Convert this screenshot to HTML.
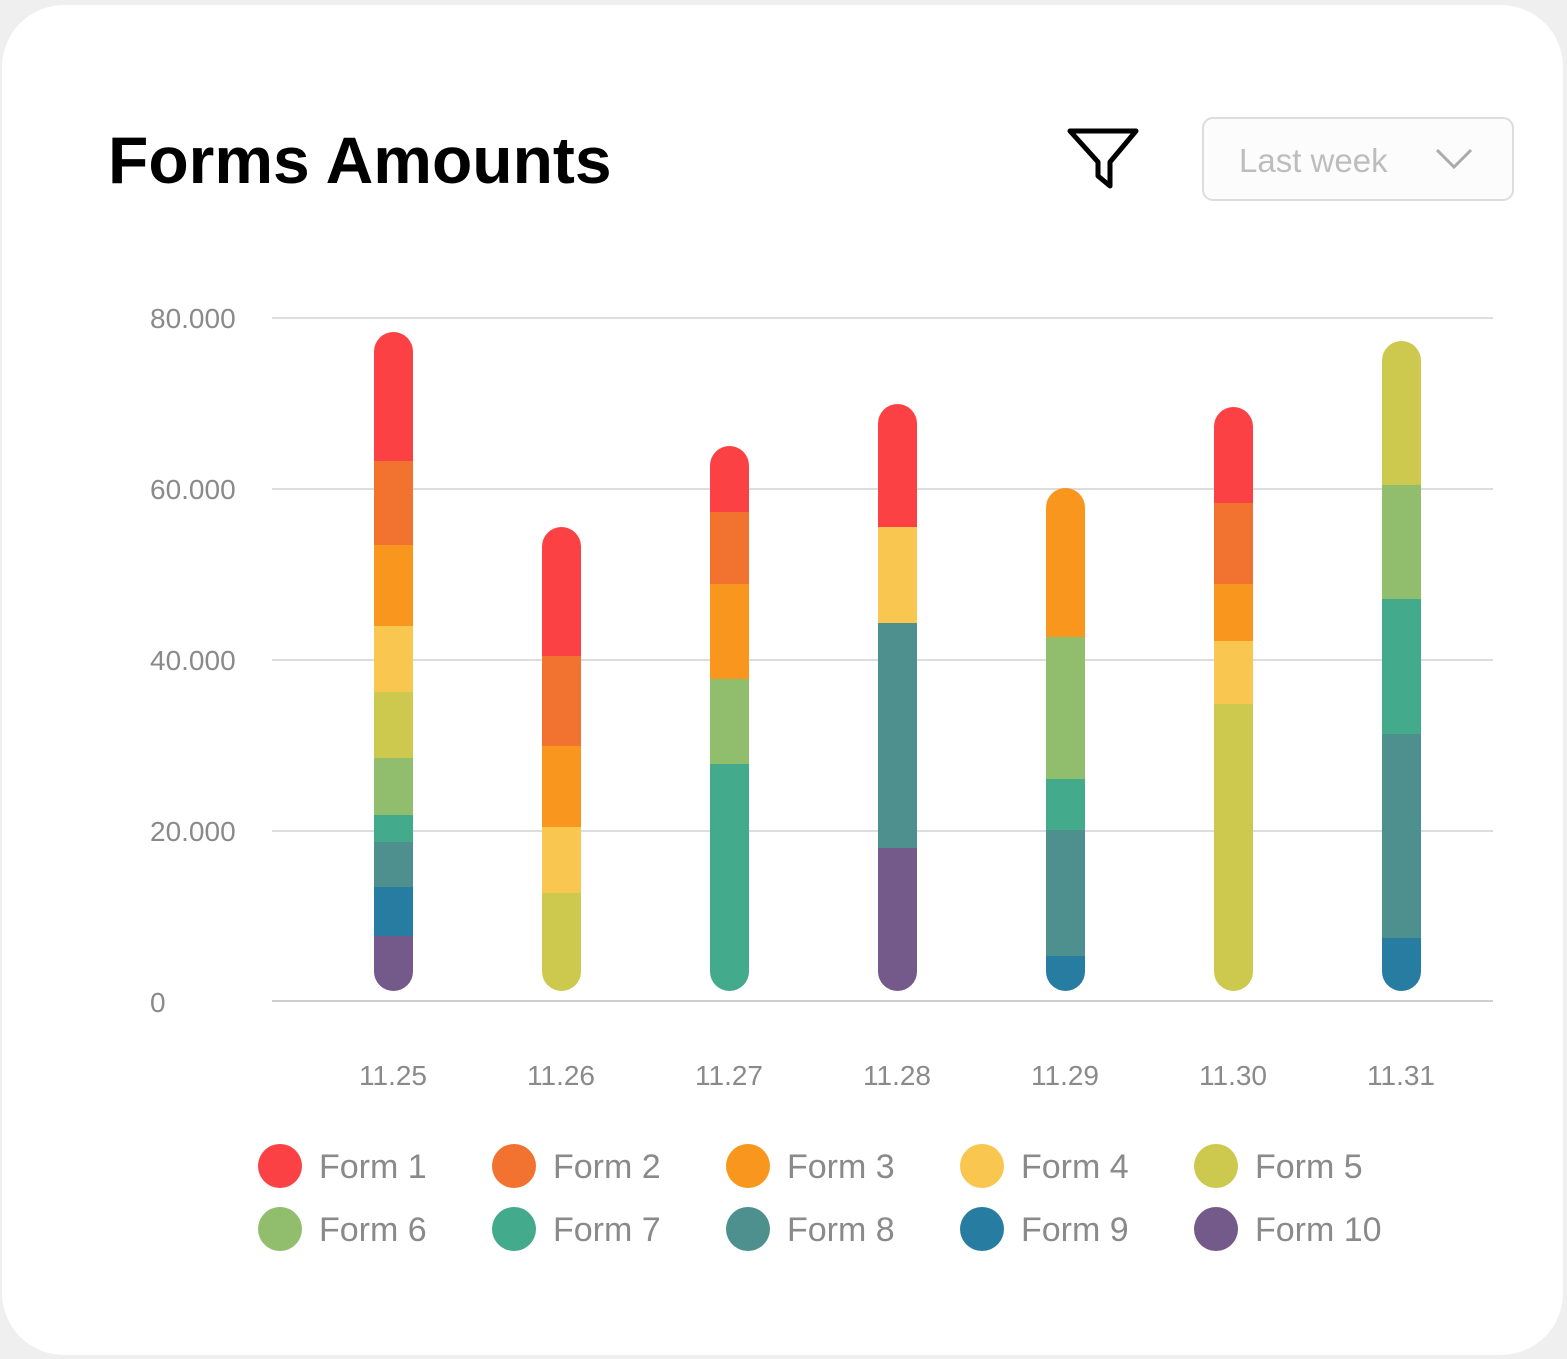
<!DOCTYPE html>
<html><head><meta charset="utf-8"><style>
html,body{margin:0;padding:0;background:#efefef;}
svg{display:block;}
text{font-family:"Liberation Sans",sans-serif;}
</style></head><body>
<svg width="1567" height="1359" viewBox="0 0 1567 1359" xmlns="http://www.w3.org/2000/svg">
<rect x="0" y="0" width="1567" height="1359" fill="#efefef"/>
<rect x="2" y="5" width="1561" height="1350" rx="62" fill="#ffffff"/>
<text x="108" y="183" font-size="66" font-weight="bold" fill="#000">Forms Amounts</text>
<path d="M1070 131 L1136 131 L1110 162 L1110 186 L1098 176 L1098 162 Z" fill="none" stroke="#000" stroke-width="5" stroke-linejoin="round"/>
<rect x="1203" y="118" width="310" height="82" rx="10" fill="#fbfcfb" stroke="#dcdcdc" stroke-width="2"/>
<text x="1239" y="172" font-size="33" fill="#bdbdbd">Last week</text>
<path d="M1437 150 L1454 167 L1471 150" fill="none" stroke="#aaa" stroke-width="3"/>
<g stroke="#dddddd" stroke-width="2">
<line x1="272" y1="318" x2="1493" y2="318"/>
<line x1="272" y1="489" x2="1493" y2="489"/>
<line x1="272" y1="660" x2="1493" y2="660"/>
<line x1="272" y1="831" x2="1493" y2="831"/>
<line x1="272" y1="1001" x2="1493" y2="1001" stroke="#cfcfcf"/>
</g>
<g font-size="28" fill="#8a8a8a">
<text x="150" y="328">80.000</text>
<text x="150" y="499">60.000</text>
<text x="150" y="670">40.000</text>
<text x="150" y="841">20.000</text>
<text x="150" y="1012">0</text>
</g>
<defs>
<clipPath id="c1"><rect x="374" y="332" width="39" height="659" rx="19.5"/></clipPath>
<clipPath id="c2"><rect x="542" y="527" width="39" height="464" rx="19.5"/></clipPath>
<clipPath id="c3"><rect x="710" y="446" width="39" height="545" rx="19.5"/></clipPath>
<clipPath id="c4"><rect x="878" y="404" width="39" height="587" rx="19.5"/></clipPath>
<clipPath id="c5"><rect x="1046" y="488" width="39" height="503" rx="19.5"/></clipPath>
<clipPath id="c6"><rect x="1214" y="407" width="39" height="584" rx="19.5"/></clipPath>
<clipPath id="c7"><rect x="1382" y="341" width="39" height="650" rx="19.5"/></clipPath>
</defs>
<g clip-path="url(#c1)">
<rect x="374" y="332" width="39" height="129" fill="#fc4145"/>
<rect x="374" y="461" width="39" height="84" fill="#f2722f"/>
<rect x="374" y="545" width="39" height="81" fill="#f8961e"/>
<rect x="374" y="626" width="39" height="66" fill="#f9c74f"/>
<rect x="374" y="692" width="39" height="66" fill="#cdc94f"/>
<rect x="374" y="758" width="39" height="57" fill="#90be6d"/>
<rect x="374" y="815" width="39" height="27" fill="#43aa8b"/>
<rect x="374" y="842" width="39" height="45" fill="#4d908e"/>
<rect x="374" y="887" width="39" height="49" fill="#277da1"/>
<rect x="374" y="936" width="39" height="55" fill="#735a8a"/>
</g>
<g clip-path="url(#c2)">
<rect x="542" y="527" width="39" height="129" fill="#fc4145"/>
<rect x="542" y="656" width="39" height="90" fill="#f2722f"/>
<rect x="542" y="746" width="39" height="81" fill="#f8961e"/>
<rect x="542" y="827" width="39" height="66" fill="#f9c74f"/>
<rect x="542" y="893" width="39" height="98" fill="#cdc94f"/>
</g>
<g clip-path="url(#c3)">
<rect x="710" y="446" width="39" height="66" fill="#fc4145"/>
<rect x="710" y="512" width="39" height="72" fill="#f2722f"/>
<rect x="710" y="584" width="39" height="95" fill="#f8961e"/>
<rect x="710" y="679" width="39" height="85" fill="#90be6d"/>
<rect x="710" y="764" width="39" height="227" fill="#43aa8b"/>
</g>
<g clip-path="url(#c4)">
<rect x="878" y="404" width="39" height="123" fill="#fc4145"/>
<rect x="878" y="527" width="39" height="96" fill="#f9c74f"/>
<rect x="878" y="623" width="39" height="225" fill="#4d908e"/>
<rect x="878" y="848" width="39" height="143" fill="#735a8a"/>
</g>
<g clip-path="url(#c5)">
<rect x="1046" y="488" width="39" height="149" fill="#f8961e"/>
<rect x="1046" y="637" width="39" height="142" fill="#90be6d"/>
<rect x="1046" y="779" width="39" height="51" fill="#43aa8b"/>
<rect x="1046" y="830" width="39" height="126" fill="#4d908e"/>
<rect x="1046" y="956" width="39" height="35" fill="#277da1"/>
</g>
<g clip-path="url(#c6)">
<rect x="1214" y="407" width="39" height="96" fill="#fc4145"/>
<rect x="1214" y="503" width="39" height="81" fill="#f2722f"/>
<rect x="1214" y="584" width="39" height="57" fill="#f8961e"/>
<rect x="1214" y="641" width="39" height="63" fill="#f9c74f"/>
<rect x="1214" y="704" width="39" height="287" fill="#cdc94f"/>
</g>
<g clip-path="url(#c7)">
<rect x="1382" y="341" width="39" height="144" fill="#cdc94f"/>
<rect x="1382" y="485" width="39" height="114" fill="#90be6d"/>
<rect x="1382" y="599" width="39" height="135" fill="#43aa8b"/>
<rect x="1382" y="734" width="39" height="204" fill="#4d908e"/>
<rect x="1382" y="938" width="39" height="53" fill="#277da1"/>
</g>
<g font-size="28" fill="#8a8a8a" text-anchor="middle">
<text x="393" y="1085">11.25</text>
<text x="561" y="1085">11.26</text>
<text x="729" y="1085">11.27</text>
<text x="897" y="1085">11.28</text>
<text x="1065" y="1085">11.29</text>
<text x="1233" y="1085">11.30</text>
<text x="1401" y="1085">11.31</text>
</g>
<g font-size="34" fill="#8a8a8a">
<circle cx="280" cy="1166" r="22" fill="#fc4145"/><text x="319" y="1178">Form 1</text>
<circle cx="514" cy="1166" r="22" fill="#f2722f"/><text x="553" y="1178">Form 2</text>
<circle cx="748" cy="1166" r="22" fill="#f8961e"/><text x="787" y="1178">Form 3</text>
<circle cx="982" cy="1166" r="22" fill="#f9c74f"/><text x="1021" y="1178">Form 4</text>
<circle cx="1216" cy="1166" r="22" fill="#cdc94f"/><text x="1255" y="1178">Form 5</text>
<circle cx="280" cy="1229" r="22" fill="#90be6d"/><text x="319" y="1241">Form 6</text>
<circle cx="514" cy="1229" r="22" fill="#43aa8b"/><text x="553" y="1241">Form 7</text>
<circle cx="748" cy="1229" r="22" fill="#4d908e"/><text x="787" y="1241">Form 8</text>
<circle cx="982" cy="1229" r="22" fill="#277da1"/><text x="1021" y="1241">Form 9</text>
<circle cx="1216" cy="1229" r="22" fill="#735a8a"/><text x="1255" y="1241">Form 10</text>
</g>
</svg>
</body></html>
